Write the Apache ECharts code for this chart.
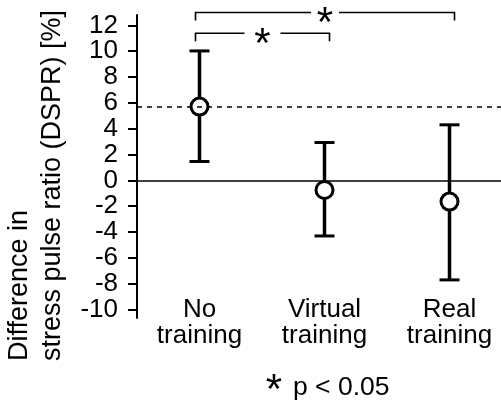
<!DOCTYPE html>
<html><head><meta charset="utf-8">
<script src="https://cdn.jsdelivr.net/npm/echarts@6/dist/echarts.min.js"></script>
<style>html,body{margin:0;padding:0;background:#fff}#c{width:501px;height:403px}</style>
</head><body><div id="c"></div>
<script>
// ---- data ----
const categories = ['No\ntraining', 'Virtual\ntraining', 'Real\ntraining'];
const means = [5.71, -0.74, -1.64];
const upper = [10.02, 2.93, 4.3];
const lower = [1.46, -4.3, -7.7];
const refLine = 5.71;
const yTicks = [-10, -8, -6, -4, -2, 0, 2, 4, 6, 8, 10, 12];
const brackets = [[0, 2, 12.99], [0, 1, 11.39]]; // from category, to category, level
const sigMark = '*';
const noteText = 'p < 0.05';
const yTitle = 'Difference in\nstress pulse ratio (DSPR) [%]';

// ---- chart ----
const FONT = 'Liberation Sans, Arial, Helvetica, sans-serif';
const chart = echarts.init(document.getElementById('c'), null, {renderer: 'canvas'});

const errData = categories.map((c, i) => [i, upper[i], lower[i]]);
const meanData = categories.map((c, i) => [i, means[i]]);
const gapHalf = [14, 18];

chart.setOption({
  animation: false,
  backgroundColor: '#fff',
  grid: {left: 137, right: -11, top: 15, bottom: 85, outerBoundsMode: 'none', containLabel: false},
  xAxis: {
    type: 'category', data: categories, boundaryGap: true,
    axisLine: {show: false}, axisTick: {show: false}, splitLine: {show: false},
    axisLabel: {interval: 0, fontSize: 26, lineHeight: 26, margin: -21, color: '#000', fontFamily: FONT}
  },
  yAxis: {
    type: 'value', min: -10.65, max: 12.8,
    splitLine: {show: false},
    axisLine: {show: true, lineStyle: {color: '#000', width: 2}},
    axisTick: {show: true, customValues: yTicks, length: 9, lineStyle: {color: '#000', width: 2}},
    axisLabel: {customValues: yTicks, fontSize: 26, color: '#000', fontFamily: FONT, margin: 19}
  },
  series: [
    {
      type: 'scatter', data: [], z: 1, silent: true,
      markLine: {
        symbol: 'none', silent: true, label: {show: false}, animation: false,
        data: [
          {yAxis: 0, lineStyle: {type: 'solid', width: 1.5, color: '#000'}},
          {yAxis: refLine, lineStyle: {type: [5, 5], width: 1.5, color: '#000'}}
        ]
      }
    },
    {
      type: 'custom', z: 2, data: errData, encode: {x: 0, y: [1, 2]},
      renderItem: function (params, api) {
        const x = api.coord([api.value(0), 0])[0];
        const hi = api.coord([api.value(0), api.value(1)])[1];
        const lo = api.coord([api.value(0), api.value(2)])[1];
        const hw = 10;
        const st = {stroke: '#000', lineWidth: 3.5};
        return {type: 'group', children: [
          {type: 'line', shape: {x1: x, y1: hi, x2: x, y2: lo}, style: st},
          {type: 'line', shape: {x1: x - hw, y1: hi, x2: x + hw, y2: hi}, style: {stroke: '#000', lineWidth: 3}},
          {type: 'line', shape: {x1: x - hw, y1: lo, x2: x + hw, y2: lo}, style: {stroke: '#000', lineWidth: 3}}
        ]};
      }
    },
    {
      type: 'scatter', z: 3, data: meanData, symbol: 'circle', symbolSize: 17,
      itemStyle: {color: '#fff', borderColor: '#000', borderWidth: 3, opacity: 1}
    },
    {
      type: 'custom', z: 4, data: brackets, clip: false, encode: {x: [0, 1], y: 2},
      renderItem: function (params, api) {
        const x1 = api.coord([api.value(0), 0])[0] - 4;
        const x2 = api.coord([api.value(1), 0])[0] + 5;
        const y = api.coord([0, api.value(2)])[1];
        const xm = (x1 + x2) / 2;
        const g = gapHalf[params.dataIndex];
        const st = {stroke: '#000', lineWidth: 1.6};
        return {type: 'group', children: [
          {type: 'polyline', shape: {points: [[x1, y + 8], [x1, y], [xm - g, y]]}, style: Object.assign({fill: null}, st)},
          {type: 'polyline', shape: {points: [[xm + g, y], [x2, y], [x2, y + 8]]}, style: Object.assign({fill: null}, st)},
          {type: 'text', x: xm, y: y + 12, style: {text: sigMark, font: '42px ' + FONT, fill: '#000', align: 'center', verticalAlign: 'middle'}}
        ]};
      }
    }
  ],
  graphic: [
    {type: 'text', x: 36, y: 361, rotation: Math.PI / 2,
     style: {text: yTitle, font: '27px ' + FONT, fill: '#000', align: 'left', verticalAlign: 'middle', lineHeight: 33}},
    {type: 'text', x: 274, y: 391,
     style: {text: sigMark, font: '42px ' + FONT, fill: '#000', align: 'center', verticalAlign: 'middle'}},
    {type: 'text', x: 293, y: 388,
     style: {text: noteText, font: '26.5px ' + FONT, fill: '#000', align: 'left', verticalAlign: 'middle'}}
  ]
});
</script></body></html>
